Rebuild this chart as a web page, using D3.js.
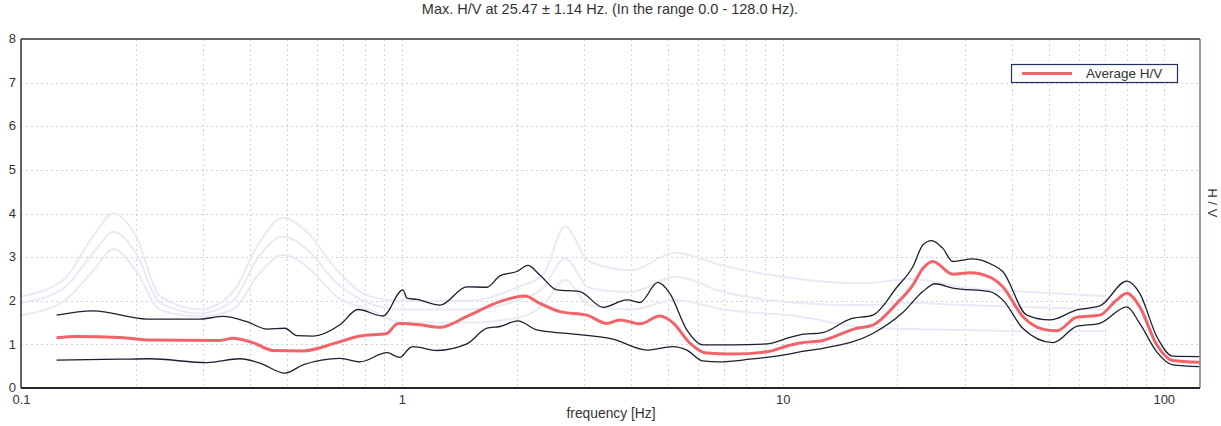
<!DOCTYPE html>
<html><head><meta charset="utf-8">
<script src="https://cdn.jsdelivr.net/npm/d3@7"></script>
<style>
html,body{margin:0;padding:0;background:#fff;}
text{font-family:"Liberation Sans",Arial,sans-serif;fill:#333;}
</style></head>
<body><svg id="c" width="1221" height="426"></svg>
<script>
const titleText = "Max. H/V at 25.47 \u00b1 1.14 Hz. (In the range 0.0 - 128.0 Hz).";
const xLabel = "frequency [Hz]";
const yLabel = "H / V";
const legendLabel = "Average H/V";
const xTickValues = [0.1, 1, 10, 100];
const xTickLabels = ["0.1", "1", "10", "100"];
const yTickValues = [0, 1, 2, 3, 4, 5, 6, 7, 8];

const avgFreq = [0.124,0.140,0.182,0.218,0.333,0.360,0.406,0.459,0.550,0.675,0.776,0.913,0.970,0.988,1.115,1.259,1.481,1.808,2.103,2.302,2.598,3.060,3.453,3.735,4.214,4.755,5.143,5.70,6.317,7.392,9.078,10.43,11.08,12.74,15.64,17.23,19.92,21.94,23.31,24.76,27.94,30.97,34.94,37.78,42.65,48.13,52.39,59.11,67.92,75.29,79.99,86.50,95.85,105.6,124];
const avgHV   = [1.15,1.18,1.16,1.10,1.09,1.14,1.04,0.86,0.85,1.04,1.19,1.25,1.47,1.48,1.45,1.39,1.64,1.98,2.11,1.94,1.75,1.67,1.48,1.56,1.47,1.65,1.50,1.03,0.80,0.78,0.83,0.98,1.03,1.09,1.37,1.44,1.94,2.36,2.74,2.90,2.61,2.64,2.54,2.32,1.64,1.35,1.31,1.62,1.67,2.02,2.17,1.86,0.99,0.63,0.59];

const upperFreq = [0.124,0.1545,0.2142,0.2951,0.339,0.392,0.4421,0.4931,0.530,0.584,0.6878,0.7664,0.8917,1.006,1.031,1.095,1.259,1.481,1.672,1.808,2.004,2.142,2.302,2.551,2.933,3.371,3.896,4.214,4.697,5.050,5.598,6.166,7.392,9.078,10.43,11.08,12.74,15.00,17.23,19.92,21.94,23.31,24.61,26.30,27.94,31.53,35.58,37.78,43.69,50.22,59.11,67.92,79.99,86.50,95.85,105.6,124];
const upperHV   = [1.67,1.77,1.58,1.58,1.64,1.52,1.35,1.37,1.20,1.19,1.45,1.80,1.65,2.25,2.06,2.03,1.90,2.32,2.31,2.57,2.67,2.81,2.59,2.25,2.21,1.85,2.02,1.96,2.42,2.17,1.33,0.99,0.99,1.01,1.16,1.22,1.27,1.58,1.67,2.31,2.78,3.28,3.38,3.20,2.90,2.96,2.82,2.67,1.67,1.56,1.79,1.88,2.45,2.17,1.18,0.73,0.72];

const lowerFreq = [0.124,0.182,0.218,0.3078,0.3756,0.424,0.4931,0.5498,0.6878,0.776,0.9134,0.988,1.049,1.069,1.236,1.481,1.672,1.808,2.016,2.261,2.711,3.580,4.396,5.143,5.598,6.166,6.833,8.194,10.43,11.08,12.74,17.23,20.65,23.31,25.06,27.94,34.94,37.78,42.65,51.14,59.11,67.92,79.99,86.50,95.85,105.6,124];
const lowerHV   = [0.64,0.66,0.67,0.58,0.67,0.57,0.34,0.53,0.68,0.60,0.81,0.70,0.92,0.95,0.86,1.01,1.37,1.41,1.54,1.33,1.25,1.12,0.87,0.95,0.87,0.62,0.60,0.66,0.78,0.83,0.91,1.25,1.73,2.21,2.39,2.29,2.21,2.02,1.37,1.04,1.41,1.48,1.86,1.48,0.83,0.53,0.49];

// faint show-through curves visible in the scanned reference
const ghostFreq  = [0.1,0.13,0.155,0.175,0.2,0.232,0.295,0.36,0.42,0.487,0.56,0.675,0.824,1.0,1.5,2.0,2.35,2.68,3.1,4.0,5.2,7,11,16,22,30,45,70];
const ghostUpper = [2.1,2.5,3.5,4.0,3.5,2.1,1.8,2.2,3.3,3.9,3.6,2.7,2.1,2.0,2.0,2.3,2.6,3.7,2.9,2.7,3.1,2.8,2.5,2.4,2.5,2.3,2.2,2.1];
const ghostMid   = [1.95,2.3,3.1,3.58,3.1,1.95,1.71,2.0,3.0,3.47,3.2,2.4,1.94,1.8,1.8,2.0,2.3,2.97,2.3,2.2,2.55,2.2,1.95,1.9,1.95,1.9,1.85,1.8];
const ghostLower = [1.67,2.0,2.7,3.18,2.7,1.79,1.64,1.8,2.6,3.05,2.8,2.09,1.79,1.5,1.5,1.6,1.9,2.48,1.9,1.8,2.02,1.8,1.64,1.4,1.35,1.33,1.3,1.3];

const W = 1221, H = 426;
const m = {left: 21, right: 1200, top: 39, bottom: 388};
const svg = d3.select("#c");

const x = d3.scaleLog().domain([0.1, 124.5]).range([m.left, m.right]);
const y = d3.scaleLinear().domain([0, 8]).range([m.bottom, m.top]);

// grid
const gridX = [];
[0.1, 1, 10, 100].forEach(d => { for (let k = 1; k <= 9; k++) { const v = d * k; if (v > 0.1 && v < 124.5) gridX.push(v); } });
const grid = svg.append("g").attr("stroke", "#cfd3de").attr("stroke-width", 1).attr("stroke-dasharray", "2,3");
grid.selectAll("line.v").data(gridX).join("line").attr("class", "v")
  .attr("x1", d => Math.round(x(d)) + 0.5).attr("x2", d => Math.round(x(d)) + 0.5)
  .attr("y1", m.top).attr("y2", m.bottom);
grid.selectAll("line.h").data(yTickValues.filter(v => v > 0 && v < 8)).join("line").attr("class", "h")
  .attr("x1", m.left).attr("x2", m.right)
  .attr("y1", d => Math.round(y(d)) + 0.5).attr("y2", d => Math.round(y(d)) + 0.5);

// ghost curves
const line = (fs, vs) => d3.line().x((d, i) => x(fs[i])).y(d => y(d)).curve(d3.curveMonotoneX)(vs);
[ghostUpper, ghostMid, ghostLower].forEach(g => {
  svg.append("path").attr("d", line(ghostFreq, g)).attr("fill", "none")
    .attr("stroke", "#e8eaf5").attr("stroke-width", 2);
});

// main curves
svg.append("path").attr("d", line(upperFreq, upperHV)).attr("fill", "none").attr("stroke", "#1c1f2e").attr("stroke-width", 1.3);
svg.append("path").attr("d", line(lowerFreq, lowerHV)).attr("fill", "none").attr("stroke", "#1c1f2e").attr("stroke-width", 1.3);
svg.append("path").attr("d", line(avgFreq, avgHV)).attr("fill", "none").attr("stroke", "#f0646a").attr("stroke-width", 3);

// frame
svg.append("line").attr("x1", m.left).attr("x2", m.right).attr("y1", m.top).attr("y2", m.top).attr("stroke", "#3a2e38").attr("stroke-width", 1.5);
svg.append("line").attr("x1", m.left).attr("x2", m.right).attr("y1", m.bottom).attr("y2", m.bottom).attr("stroke", "#222630").attr("stroke-width", 2);
svg.append("line").attr("x1", m.left).attr("x2", m.left).attr("y1", m.top).attr("y2", m.bottom).attr("stroke", "#2a2e3a").attr("stroke-width", 1.5);
svg.append("line").attr("x1", m.right).attr("x2", m.right).attr("y1", m.top).attr("y2", m.bottom).attr("stroke", "#555a66").attr("stroke-width", 1.2);

// axes (labels only)
const xAxis = d3.axisBottom(x).tickValues(xTickValues).tickFormat((d, i) => xTickLabels[i]).tickSize(0).tickPadding(7);
const gx = svg.append("g").attr("transform", `translate(0,${m.bottom})`).call(xAxis);
gx.select(".domain").remove();
gx.selectAll("text").attr("font-size", 13).attr("fill", "#333").style("font-family", "Liberation Sans, Arial, sans-serif");

const yAxis = d3.axisLeft(y).tickValues(yTickValues).tickFormat(d3.format("d")).tickSize(0).tickPadding(5);
const gy = svg.append("g").attr("transform", `translate(${m.left},0)`).call(yAxis);
gy.select(".domain").remove();
gy.selectAll("text").attr("font-size", 13).attr("fill", "#333").attr("dy", "0.28em").style("font-family", "Liberation Sans, Arial, sans-serif");

// title and labels
svg.append("text").attr("x", 610).attr("y", 14).attr("text-anchor", "middle").attr("font-size", 14.5).text(titleText);
svg.append("text").attr("x", 611).attr("y", 418).attr("text-anchor", "middle").attr("font-size", 13.8).text(xLabel);
svg.append("text").attr("transform", "translate(1208,203) rotate(90)").attr("text-anchor", "middle").attr("font-size", 13).text(yLabel);

// legend
const lg = svg.append("g");
lg.append("rect").attr("x", 1011.5).attr("y", 64.5).attr("width", 166).attr("height", 18).attr("fill", "#fff").attr("stroke", "#23305e").attr("stroke-width", 1.2);
lg.append("line").attr("x1", 1022).attr("x2", 1072).attr("y1", 73.5).attr("y2", 73.5).attr("stroke", "#f0646a").attr("stroke-width", 3);
lg.append("text").attr("x", 1086).attr("y", 78).attr("font-size", 13.5).text(legendLabel);
</script></body></html>
